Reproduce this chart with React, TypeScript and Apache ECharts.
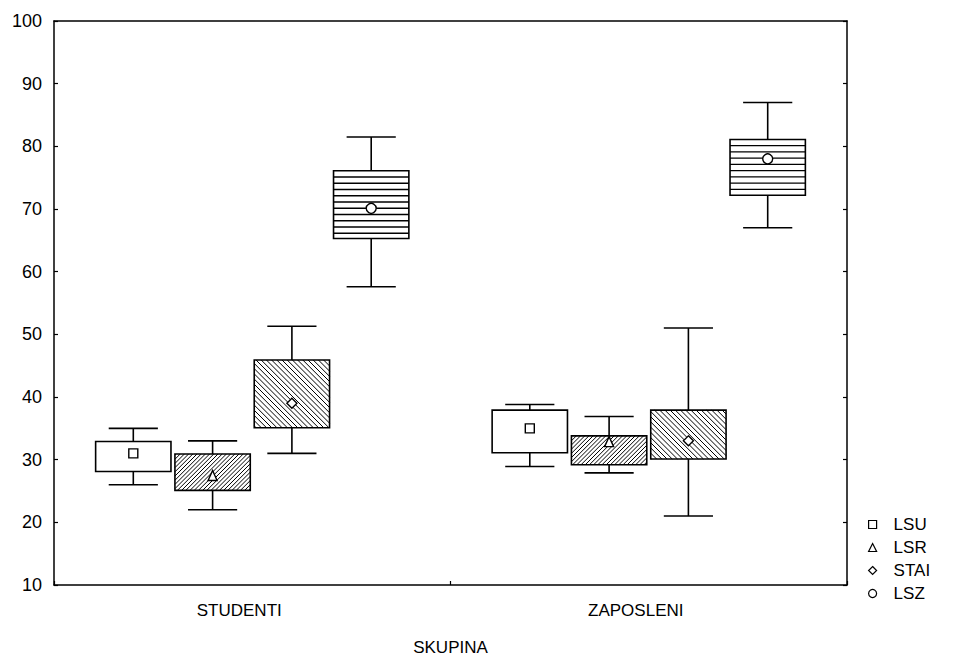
import React, { useEffect, useRef } from "react";
import * as echarts from "echarts";

const categories = ["STUDENTI", "ZAPOSLENI"];
const variables = ["LSU", "LSR", "STAI", "LSZ"];
const yTicks = [10, 20, 30, 40, 50, 60, 70, 80, 90, 100];

// [categoryIndex, min, q1, median, q3, max]
const lsu = [
  [0, 26, 28.1, 31, 32.9, 35],
  [1, 28.9, 31.1, 35, 37.9, 38.8],
];
const lsr = [
  [0, 22, 25.1, 27.4, 30.9, 33],
  [1, 27.9, 29.2, 32.8, 33.8, 36.9],
];
const stai = [
  [0, 31, 35.1, 39, 45.9, 51.3],
  [1, 21, 30.1, 33, 37.9, 51],
];
const lsz = [
  [0, 57.6, 65.3, 70.1, 76.1, 81.5],
  [1, 67, 72.2, 78, 81.1, 87],
];

const seriesData = [lsu, lsr, stai, lsz];
const fills = ["none", "slash", "backslash", "horizontal"];
const markers = ["rect", "triangle", "diamond", "circle"];

const FONT = "'Liberation Sans', Arial, sans-serif";

function hatchLines(x0: number, y0: number, x1: number, y1: number, kind: string) {
  const out: any[] = [];
  const ls = { stroke: "#000", lineWidth: 1 };
  if (kind === "slash") {
    const s = 4.2;
    const cStart = Math.ceil((x0 + y0) / s) * s;
    for (let c = cStart; c <= x1 + y1; c += s) {
      const xa = Math.max(x0, c - y1);
      const xb = Math.min(x1, c - y0);
      if (xb - xa > 0.5) {
        out.push({ type: "line", shape: { x1: xa, y1: c - xa, x2: xb, y2: c - xb }, style: ls, silent: true });
      }
    }
  } else if (kind === "backslash") {
    const s = 5.2;
    const cStart = Math.ceil((x0 - y1) / s) * s;
    for (let c = cStart; c <= x1 - y0; c += s) {
      const xa = Math.max(x0, y0 + c);
      const xb = Math.min(x1, y1 + c);
      if (xb - xa > 0.5) {
        out.push({ type: "line", shape: { x1: xa, y1: xa - c, x2: xb, y2: xb - c }, style: ls, silent: true });
      }
    }
  } else if (kind === "horizontal") {
    const s = 6.25;
    for (let y = y0 + s; y < y1 - 1; y += s) {
      out.push({ type: "line", shape: { x1: x0, y1: y, x2: x1, y2: y }, style: { stroke: "#000", lineWidth: 1.3 }, silent: true });
    }
  }
  return out;
}

function markerShape(kind: string, cx: number, cy: number) {
  const st = { fill: "#fff", stroke: "#000", lineWidth: 1.4 };
  const r = 4.5;
  if (kind === "rect") {
    return { type: "rect", shape: { x: cx - r, y: cy - r, width: 2 * r, height: 2 * r }, style: st };
  }
  if (kind === "triangle") {
    return { type: "polygon", shape: { points: [[cx, cy - r - 1], [cx + r, cy + r], [cx - r, cy + r]] }, style: st };
  }
  if (kind === "diamond") {
    return { type: "polygon", shape: { points: [[cx, cy - r - 0.5], [cx + r + 0.5, cy], [cx, cy + r + 0.5], [cx - r - 0.5, cy]] }, style: st };
  }
  return { type: "circle", shape: { cx, cy, r: r + 0.5 }, style: st };
}

function makeRenderItem(sIdx: number) {
  return (params: any, api: any) => {
    const cat = api.value(0);
    const band = api.size([1, 0])[0];
    const center = api.coord([cat, api.value(3)]);
    const cx = center[0] + (sIdx - 1.5) * 0.2 * band;
    const yMin = api.coord([cat, api.value(1)])[1];
    const yQ1 = api.coord([cat, api.value(2)])[1];
    const yMed = center[1];
    const yQ3 = api.coord([cat, api.value(4)])[1];
    const yMax = api.coord([cat, api.value(5)])[1];
    const bw = 0.19 * band;
    const cw = 0.124 * band;
    const x0 = cx - bw / 2;
    const x1 = cx + bw / 2;
    const ls = { stroke: "#000", lineWidth: 1.6 };
    const children: any[] = [
      { type: "line", shape: { x1: cx, y1: yMax, x2: cx, y2: yQ3 }, style: ls },
      { type: "line", shape: { x1: cx, y1: yQ1, x2: cx, y2: yMin }, style: ls },
      { type: "line", shape: { x1: cx - cw / 2, y1: yMax, x2: cx + cw / 2, y2: yMax }, style: ls },
      { type: "line", shape: { x1: cx - cw / 2, y1: yMin, x2: cx + cw / 2, y2: yMin }, style: ls },
      { type: "rect", shape: { x: x0, y: yQ3, width: bw, height: yQ1 - yQ3 }, style: { fill: "#fff", stroke: "none" } },
      ...hatchLines(x0, yQ3, x1, yQ1, fills[sIdx]),
      { type: "rect", shape: { x: x0, y: yQ3, width: bw, height: yQ1 - yQ3 }, style: { fill: "none", stroke: "#000", lineWidth: 1.6 } },
      markerShape(markers[sIdx], cx, yMed),
    ];
    return { type: "group", children };
  };
}

export default function App() {
  const ref = useRef<HTMLDivElement>(null);
  useEffect(() => {
    if (!ref.current) return;
    const chart = echarts.init(ref.current, null, { renderer: "svg" });
    const axisCommon = {
      min: yTicks[0],
      max: yTicks[yTicks.length - 1],
      interval: 10,
      splitLine: { show: false },
      axisLine: { show: true, onZero: false, lineStyle: { color: "#000", width: 1.5 } },
      axisTick: { show: true, inside: true, length: 4, lineStyle: { color: "#000", width: 1.2 } },
    };
    chart.setOption({
      animation: false,
      backgroundColor: "#fff",
      grid: { left: 54, right: 133, top: 21, bottom: 69, show: false },
      legend: {
        orient: "vertical",
        left: 863,
        top: 511,
        itemWidth: 8,
        itemHeight: 8,
        itemGap: 6,
        data: variables.map((n, i) => ({ name: n, icon: markers[i] })),
        itemStyle: { color: "#fff", borderColor: "#000", borderWidth: 1.2 },
        textStyle: { fontFamily: FONT, fontSize: 17, color: "#000", lineHeight: 17, padding: [0, 0, 0, 12] },
      },
      xAxis: [
        {
          type: "category",
          data: categories,
          boundaryGap: true,
          name: "SKUPINA",
          nameLocation: "middle",
          nameGap: 54,
          nameTextStyle: { fontFamily: FONT, fontSize: 17, color: "#000" },
          axisLine: { show: true, onZero: false, lineStyle: { color: "#000", width: 1.5 } },
          axisTick: { show: true, inside: true, length: 4, alignWithLabel: false, lineStyle: { color: "#000", width: 1.2 } },
          axisLabel: { fontFamily: FONT, fontSize: 17, color: "#000", margin: 17, padding: [0, 26, 0, 0] },
          splitLine: { show: false },
        },
        {
          type: "category",
          data: categories,
          position: "top",
          axisLine: { show: true, onZero: false, lineStyle: { color: "#000", width: 1.5 } },
          axisTick: { show: false },
          axisLabel: { show: false },
        },
      ],
      yAxis: [
        {
          type: "value",
          ...axisCommon,
          axisLabel: { fontFamily: FONT, fontSize: 18, color: "#000", margin: 12 },
        },
        {
          type: "value",
          position: "right",
          ...axisCommon,
          axisLabel: { show: false },
        },
      ],
      series: seriesData.map((d, i) => ({
        type: "custom",
        name: variables[i],
        xAxisIndex: 0,
        yAxisIndex: 0,
        data: d,
        encode: { x: 0, y: [1, 2, 3, 4, 5] },
        itemStyle: { color: "#fff", borderColor: "#000" },
        renderItem: makeRenderItem(i),
        clip: false,
      })),
    });
    return () => chart.dispose();
  }, []);
  return <div ref={ref} style={{ width: 980, height: 661, position: "absolute", left: 0, top: 0 }} />;
}
